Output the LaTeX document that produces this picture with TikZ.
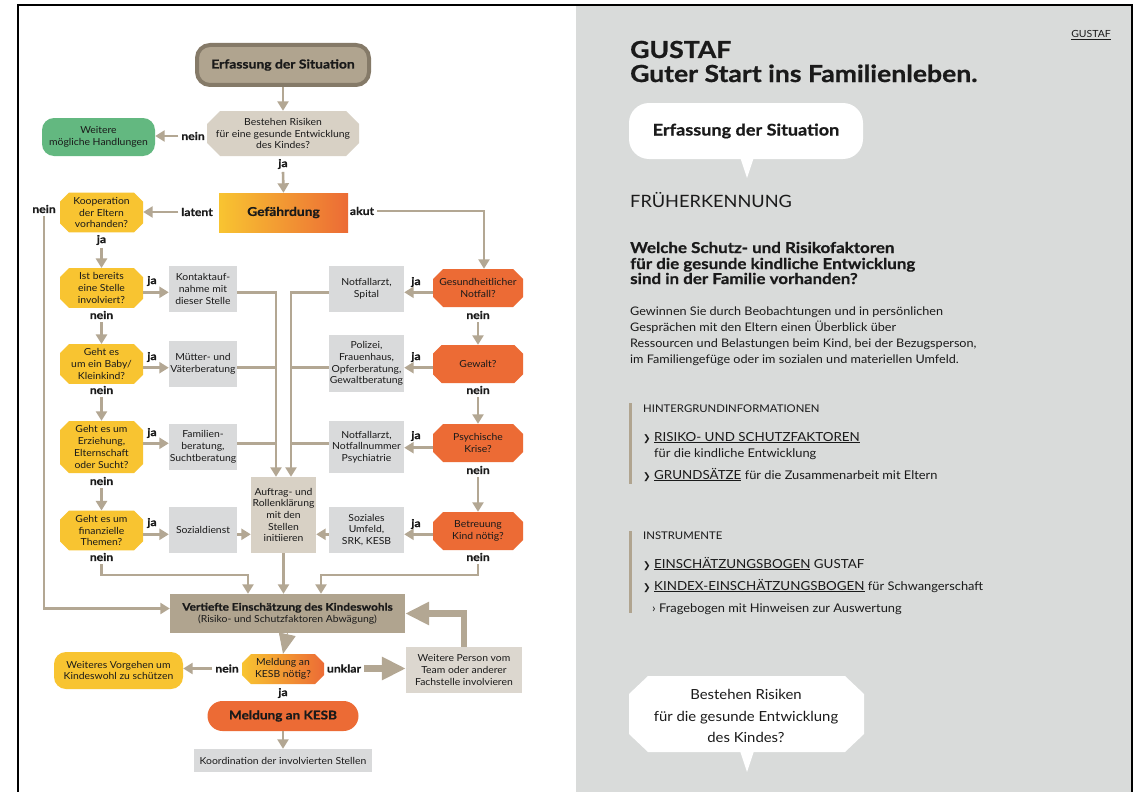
\documentclass[tikz,border=0pt]{standalone}
\usepackage{fontspec}
\setmainfont{Lato}[FakeStretch=1.07, BoldFeatures={FakeStretch=1.13, FakeBold=0.8}]
\newfontfamily\dvs{DejaVu Sans}
\usetikzlibrary{shapes.misc,arrows.meta,calc}
\definecolor{taupe}{HTML}{B0A48F}
\definecolor{taupedk}{HTML}{857A68}
\definecolor{beige}{HTML}{D8D1C5}
\definecolor{lgray}{HTML}{D9DADB}
\definecolor{yel}{HTML}{F8C431}
\definecolor{ora}{HTML}{EC6B35}
\definecolor{grn}{HTML}{63B880}
\definecolor{panel}{HTML}{D9DBDA}
\definecolor{txt}{HTML}{1A1A1A}
\definecolor{conn}{HTML}{B3A793}
\definecolor{wbeige}{HTML}{DCD7CF}
\tikzset{
 base/.style={font=\fontsize{9.7}{11.7}\selectfont, align=center, inner sep=0pt, text=txt},
 yq/.style={base, chamfered rectangle, chamfered rectangle sep=4.5pt, fill=yel, minimum width=83pt, minimum height=38pt},
 oq/.style={base, chamfered rectangle, chamfered rectangle sep=5pt, fill=ora, minimum width=90pt, minimum height=38pt},
 gb/.style={base, rectangle, fill=lgray, minimum width=68pt, minimum height=46pt},
 gbr/.style={base, rectangle, fill=lgray, minimum width=75pt, minimum height=46pt},
 lab/.style={font=\bfseries\fontsize{10.8}{12}\selectfont, inner sep=0pt, outer sep=3pt, text=txt},
 arr/.style={draw=conn, line width=2.6pt, -{Triangle[width=11pt,length=9.5pt]}},
 ln/.style={draw=conn, line width=2.6pt},
 big/.style={draw=conn, line width=6.5pt, -{Triangle[width=22pt,length=24pt]}},
 rt/.style={anchor=base west, inner sep=0pt, text=txt},
 chev/.style={anchor=base west, inner sep=0pt, text=txt, font=\dvs\bfseries\fontsize{9}{10}\selectfont},
}
\begin{document}
\begin{tikzpicture}[x=1pt,y=-1pt]
\useasboundingbox (0,0) rectangle (1133,792);
\fill[white] (0,0) rectangle (1133,792);
\fill[panel] (576,5) rectangle (1133,792);
\draw[black, line width=2pt] (18,792) -- (18,5) -- (1133,5);
\draw[black, line width=2pt] (1132,5) -- (1132,792);

% ---------- flowchart nodes
\node[base, rectangle, rounded corners=13pt, fill=taupe, draw=taupedk, line width=4pt,
      minimum width=172pt, minimum height=40pt, font=\bfseries\fontsize{12.3}{14}\selectfont] (erf) at (283,65) {Erfassung der Situation};
\node[base, chamfered rectangle, chamfered rectangle sep=6.5pt, fill=beige, minimum width=152pt, minimum height=45pt] (best) at (283,133.5) {Bestehen Risiken\\für eine gesunde Entwicklung\\des Kindes?};
\node[base, rectangle, rounded corners=12pt, fill=grn, minimum width=113pt, minimum height=38pt] (weit) at (98.5,137) {Weitere\\mögliche Handlungen};
\node[base, rectangle, left color=yel, right color=ora, minimum width=129pt, minimum height=39pt, font=\bfseries\fontsize{12.2}{14}\selectfont] (gef) at (283.5,212.5) {Gefährdung};

\node[yq, minimum height=39pt] (koop) at (101.5,212.5) {Kooperation\\der Eltern\\vorhanden?};
\node[yq] (ist) at (101.5,288) {Ist bereits\\eine Stelle\\involviert?};
\node[yq] (baby) at (101.5,364) {Geht es\\um ein Baby/\\Kleinkind?};
\node[yq, minimum height=52pt] (erz) at (101.5,447) {Geht es um\\Erziehung,\\Elternschaft\\oder Sucht?};
\node[yq, minimum height=37pt] (fin) at (101.5,530.5) {Geht es um\\finanzielle\\Themen?};

\node[gb] (kont) at (203,289) {Kontaktauf-\\nahme mit\\dieser Stelle};
\node[gb] (muet) at (203,364) {Mütter- und\\Väterberatung};
\node[gb] (fam) at (203,447) {Familien-\\beratung,\\Suchtberatung};
\node[gb] (soz) at (203,530) {Sozialdienst};

\node[oq] (gesu) at (478,288) {Gesundheitlicher\\Notfall?};
\node[oq] (gew) at (478,364) {Gewalt?};
\node[oq] (psy) at (478,443) {Psychische\\Krise?};
\node[oq] (betr) at (478,531) {Betreuung\\Kind nötig?};

\node[gbr] (notf) at (366.5,289) {Notfallarzt,\\Spital};
\node[gbr, minimum height=57pt] (pol) at (366.5,363.5) {Polizei,\\Frauenhaus,\\Opferberatung,\\Gewaltberatung};
\node[gbr, minimum height=52pt] (notp) at (366.5,447) {Notfallarzt,\\Notfallnummer\\Psychiatrie};
\node[gbr] (sozu) at (366.5,530) {Soziales\\Umfeld,\\SRK, KESB};

\node[base, fill=beige, minimum width=65pt, minimum height=76pt] (auf) at (283.5,515) {Auftrag- und\\Rollenklärung\\mit den\\Stellen\\initiieren};

\node[base, fill=taupe, minimum width=235pt, minimum height=39pt] (vert) at (287.5,613.5) {{\bfseries\fontsize{10.5}{13}\selectfont Vertiefte Einschätzung des Kindeswohls}\\(Risiko- und Schutzfaktoren Abwägung)};
\node[base, chamfered rectangle, chamfered rectangle sep=4.5pt, left color=yel, right color=ora, minimum width=82pt, minimum height=30pt] (mk) at (283,669) {Meldung an\\KESB nötig?};
\node[base, rectangle, rounded corners=12pt, fill=yel, minimum width=129pt, minimum height=37pt] (wv) at (118.5,670.5) {Weiteres Vorgehen um\\Kindeswohl zu schützen};
\node[base, fill=wbeige, minimum width=116pt, minimum height=46pt] (wp) at (464,670) {Weitere Person vom\\Team oder anderer\\Fachstelle involvieren};
\node[base, rectangle, rounded corners=15pt, fill=ora, minimum width=151pt, minimum height=30pt, font=\bfseries\fontsize{12}{14}\selectfont] (kesb) at (283,716) {Meldung an KESB};
\node[base, fill=lgray, minimum width=178pt, minimum height=23pt] (koord) at (283,760.5) {Koordination der involvierten Stellen};

% ---------- labels
\node[lab] (l0) at (193,136) {nein};
\node[lab] (l1) at (283,164) {ja};
\node[lab] (lat) at (197,212) {latent};
\node[lab] (ak) at (362,211) {akut};
\node[lab] (kn) at (44,209) {nein};
\node[lab] (kj) at (101.5,240) {ja};
\node[lab] (in) at (101.5,315) {nein};
\node[lab] (bn) at (101.5,390) {nein};
\node[lab] (en) at (101.5,481) {nein};
\node[lab] (fn) at (101.5,557) {nein};
\node[lab] (ij) at (152,281) {ja};
\node[lab] (bj) at (152,357) {ja};
\node[lab] (ej) at (152,433) {ja};
\node[lab] (fj) at (152,523) {ja};
\node[lab] (gn) at (478,315) {nein};
\node[lab] (wn) at (478,390) {nein};
\node[lab] (pn) at (478,470) {nein};
\node[lab] (rn) at (478,557) {nein};
\node[lab] (gj) at (416,282) {ja};
\node[lab] (wj) at (416,357) {ja};
\node[lab] (pj) at (416,436) {ja};
\node[lab] (rj) at (416,524) {ja};
\node[lab] (mn) at (227,668.5) {nein};
\node[lab] (mu) at (344,668.5) {unklar};
\node[lab] (mj) at (283,693) {ja};

% ---------- helper coordinates
\coordinate (r1) at (0,292.3);
\coordinate (r2) at (0,367.7);
\coordinate (r3) at (0,443.3);
\coordinate (r3b) at (0,447.7);
\coordinate (r4) at (0,534.3);
\coordinate (hy) at (0,575);
\coordinate (cl) at ([xshift=-7.5pt]auf.north);
\coordinate (cr) at ([xshift=7.5pt]auf.north);
\coordinate (vl) at ([xshift=-39.5pt]vert.north);
\coordinate (vr) at ([xshift=33.5pt]vert.north);

% ---------- connectors
\draw[arr] (erf.south) -- (best.north);
\draw[arr] (l0.west) -- (l0.west -| weit.east);
\draw[arr] (l1.south) -- (gef.north);
\draw[arr] (lat.west) -- (lat.west -| koop.east);
\draw[arr] (ak.east) -| ([xshift=6pt]gesu.north);
\draw[arr] (kn.south) |- ([yshift=5pt]vert.west);
\draw[arr] (kj.south) -- (ist.north);
\draw[arr] (in.south) -- (baby.north);
\draw[arr] (bn.south) -- (erz.north);
\draw[arr] (en.south) -- (fin.north);
\draw[arr] (fn.south) -- (fn.south |- hy) -| (vl);
\draw[arr] (gn.south) -- (gew.north);
\draw[arr] (wn.south) -- (psy.north);
\draw[arr] (pn.south) -- (betr.north);
\draw[arr] (rn.south) -- (rn.south |- hy) -| (vr);

\draw[arr] (ist.east |- r1) -- (kont.west |- r1);
\draw[arr] (baby.east |- r2) -- (muet.west |- r2);
\draw[arr] (erz.east |- r3) -- (fam.west |- r3);
\draw[arr] (fin.east |- r4) -- (soz.west |- r4);
\draw[arr] (gesu.west |- r1) -- (notf.east |- r1);
\draw[arr] (gew.west |- r2) -- (pol.east |- r2);
\draw[arr] (psy.west |- r3b) -- (notp.east |- r3b);
\draw[arr] (betr.west |- r4) -- (sozu.east |- r4);

\draw[arr] (kont.east |- r1) -| (cl);
\draw[ln] (muet.east |- r2) -- (cl |- r2);
\draw[ln] (fam.east |- r3) -- (cl |- r3);
\draw[arr] (notf.west |- r1) -| (cr);
\draw[ln] (pol.west |- r2) -- (cr |- r2);
\draw[ln] (notp.west |- r3) -- (cr |- r3);
\draw[arr] (soz.east |- r4) -- (auf.west |- r4);
\draw[arr] (sozu.west |- r4) -- (auf.east |- r4);
\draw[arr] (auf.south) -- (auf.south |- vert.north);

\draw[draw=conn, line width=1pt, -{Triangle[width=17pt,length=20pt]}] (vert.south) -- (mk.north);
\draw[arr] (mn.west) -- (mn.west -| wv.east);
\draw[big] (mu.east) -- (mu.east -| wp.west);
\draw[big] (wp.north) |- (vert.east);
\draw[arr] (kesb.south) -- (koord.north);

% ---------- right panel
\node[anchor=base east, inner sep=0pt, font=\fontsize{9.8}{11}\selectfont, text=txt] (g0) at (1111,38) {\underline{GUSTAF}};
\node[rt, font=\bfseries\fontsize{23.5}{25}\selectfont] (t1) at (630,58) {GUSTAF};
\node[rt, font=\bfseries\fontsize{23.5}{25}\selectfont] (t2) at (630,82) {Guter Start ins Familienleben.};

\fill[white, rounded corners=20pt] (629,103) rectangle (863,159);
\fill[white] (740,157) -- (754,157) -- (747,178) -- cycle;
\node[inner sep=0pt, font=\bfseries\fontsize{16}{18}\selectfont, text=txt] (b1) at (746,131) {Erfassung der Situation};

\node[rt, font=\fontsize{17}{20}\selectfont] (fk) at (630,207) {FRÜHERKENNUNG};
\node[rt, font=\bfseries\fontsize{15}{16}\selectfont] (q1) at (630,253) {Welche Schutz- und Risikofaktoren};
\node[rt, font=\bfseries\fontsize{15}{16}\selectfont] (q2) at (630,269) {für die gesunde kindliche Entwicklung};
\node[rt, font=\bfseries\fontsize{15}{16}\selectfont] (q3) at (630,284) {sind in der Familie vorhanden?};

\node[rt, font=\fontsize{11.8}{16}\selectfont] (p1) at (630,315) {Gewinnen Sie durch Beobachtungen und in persönlichen};
\node[rt, font=\fontsize{11.8}{16}\selectfont] (p2) at (630,331) {Gesprächen mit den Eltern einen Überblick über};
\node[rt, font=\fontsize{11.8}{16}\selectfont] (p3) at (630,347) {Ressourcen und Belastungen beim Kind, bei der Bezugsperson,};
\node[rt, font=\fontsize{11.8}{16}\selectfont] (p4) at (630,363) {im Familiengefüge oder im sozialen und materiellen Umfeld.};

\fill[taupe] (629,403) rectangle (631.5,484);
\fill[taupe] (629,531) rectangle (631.5,613);

\node[rt, font=\fontsize{10.6}{11}\selectfont] (h1) at (643,412) {HINTERGRUNDINFORMATIONEN};
\node[chev] (c1) at (643,441) {❯};
\node[rt, font=\fontsize{12.5}{13}\selectfont] (k1) at (654,441) {\underline{RISIKO- UND SCHUTZFAKTOREN}};
\node[rt, font=\fontsize{12}{13}\selectfont] (k1b) at (654,457) {für die kindliche Entwicklung};
\node[chev] (c2) at (643,479) {❯};
\node[rt, font=\fontsize{12.5}{13}\selectfont] (k2) at (654,479) {\underline{GRUNDSÄTZE} {\fontsize{12}{13}\selectfont für die Zusammenarbeit mit Eltern}};

\node[rt, font=\fontsize{10.6}{11}\selectfont] (h2) at (643,539) {INSTRUMENTE};
\node[chev] (c3) at (643,568) {❯};
\node[rt, font=\fontsize{12.5}{13}\selectfont] (k3) at (654,568) {\underline{EINSCHÄTZUNGSBOGEN} GUSTAF};
\node[chev] (c4) at (643,590) {❯};
\node[rt, font=\fontsize{12.5}{13}\selectfont] (k4) at (654,590) {\underline{KINDEX-EINSCHÄTZUNGSBOGEN} {\fontsize{12}{13}\selectfont für Schwangerschaft}};
\node[rt, font=\fontsize{12}{13}\selectfont] (k5) at (652,612) {› Fragebogen mit Hinweisen zur Auswertung};

\fill[white] (648,676) -- (845,676) -- (864,694) -- (864,734) -- (845,752) -- (648,752) -- (629,734) -- (629,694) -- cycle;
\fill[white] (740,751) -- (754,751) -- (747,772) -- cycle;
\node[anchor=base, inner sep=0pt, font=\fontsize{13.9}{16}\selectfont, text=txt] (s1) at (746,699) {Bestehen Risiken};
\node[anchor=base, inner sep=0pt, font=\fontsize{13.9}{16}\selectfont, text=txt] (s2) at (746,721) {für die gesunde Entwicklung};
\node[anchor=base, inner sep=0pt, font=\fontsize{13.9}{16}\selectfont, text=txt] (s3) at (746,742) {des Kindes?};
\end{tikzpicture}
\end{document}
